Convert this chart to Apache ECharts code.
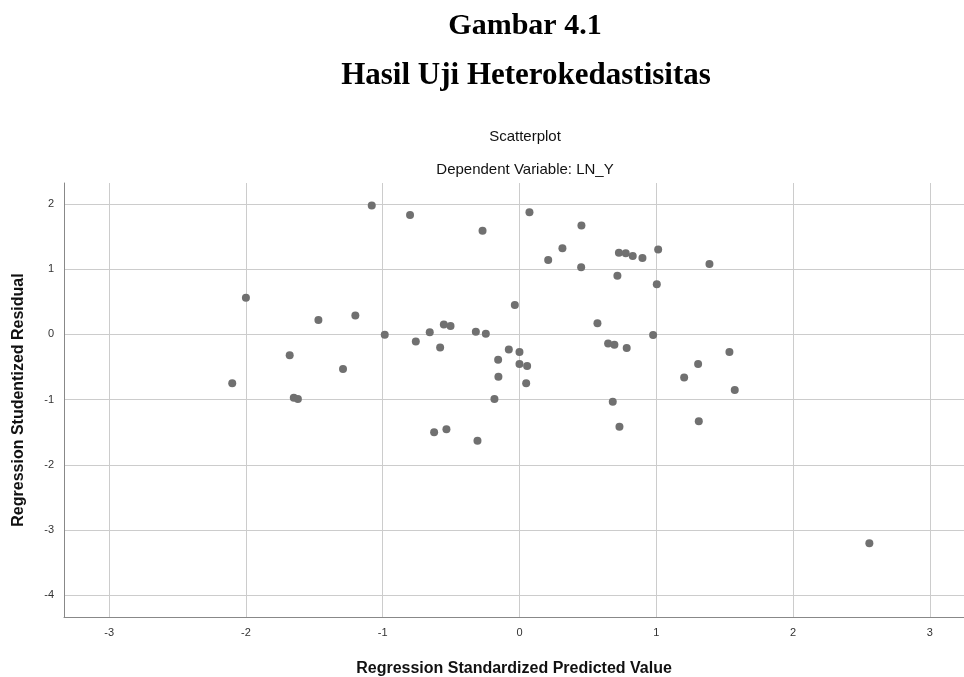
<!DOCTYPE html>
<html>
<head>
<meta charset="utf-8">
<title>Hasil Uji Heterokedastisitas</title>
<script src="https://cdn.jsdelivr.net/npm/echarts@6/dist/echarts.min.js"></script>
<style>
  html, body { margin: 0; padding: 0; background: #fff; }
  #chart { width: 964px; height: 677px; }
</style>
</head>
<body>
<div id="chart"></div>
<script>
// predicted value (x) and studentized residual (y)
const predicted = [
  -2.10, -2.00, -1.68, -1.65, -1.62, -1.47, -1.29, -1.20, -1.08, -0.985,
  -0.80, -0.758, -0.656, -0.624, -0.58, -0.553, -0.534, -0.504, -0.319, -0.307,
  -0.27, -0.246, -0.183, -0.156, -0.154, -0.078, -0.034, 0.0, 0.0, 0.049,
  0.056, 0.073, 0.21, 0.314, 0.451, 0.453, 0.570, 0.648, 0.682, 0.694,
  0.716, 0.727, 0.731, 0.777, 0.784, 0.828, 0.899, 0.977, 1.004, 1.014,
  1.204, 1.306, 1.311, 1.389, 1.535, 1.574, 2.558
]
const residual = [
  -0.75, 0.56, -0.32, -0.97, -0.99, 0.22, -0.53, 0.29, 1.975, -0.005,
  1.83, -0.11, 0.035, -1.50, -0.20, 0.15, -1.455, 0.13, 0.04, -1.63,
  1.59, 0.01, -0.99, -0.39, -0.65, -0.23, 0.45, -0.27, -0.455, -0.75,
  -0.485, 1.87, 1.14, 1.32, 1.03, 1.67, 0.17, -0.14, -1.03, -0.16,
  0.90, 1.25, -1.415, 1.245, -0.21, 1.20, 1.17, -0.01, 0.77, 1.30,
  -0.66, -0.455, -1.33, 1.08, -0.27, -0.85, -3.20
]
const xTicks = [-3, -2, -1, 0, 1, 2, 3]
const yTicks = [-4, -3, -2, -1, 0, 1, 2]

const chart = echarts.init(document.getElementById('chart'))

const sans = '"Liberation Sans", Arial, sans-serif'
const serif = '"Liberation Serif", "Times New Roman", serif'

const points = predicted.map((x, i) => [x, residual[i]])

const option = {
  backgroundColor: '#ffffff',
  animation: false,
  title: [
    {
      text: 'Gambar 4.1',
      left: 520, top: 6, textAlign: 'center',
      textStyle: { fontFamily: serif, fontWeight: 'bold', fontSize: 30, color: '#000' }
    },
    {
      text: 'Hasil Uji Heterokedastisitas',
      left: 521, top: 55, textAlign: 'center',
      textStyle: { fontFamily: serif, fontWeight: 'bold', fontSize: 31, color: '#000' }
    },
    {
      text: 'Scatterplot',
      left: 520, top: 124, textAlign: 'center',
      textStyle: { fontFamily: sans, fontWeight: 'normal', fontSize: 15, color: '#111' }
    },
    {
      text: 'Dependent Variable: LN_Y',
      left: 520, top: 157, textAlign: 'center',
      textStyle: { fontFamily: sans, fontWeight: 'normal', fontSize: 15, color: '#111' }
    }
  ],
  grid: { left: 64, top: 183, right: 0, bottom: 60, outerBoundsMode: 'none', containLabel: false },
  xAxis: {
    type: 'value',
    min: -3.33, max: 3.25,
    name: 'Regression Standardized Predicted Value',
    nameLocation: 'middle',
    nameGap: 44,
    nameTextStyle: { fontFamily: sans, fontWeight: 'bold', fontSize: 16, color: '#111' },
    axisLine: { show: true, onZero: false, lineStyle: { color: '#888', width: 1 } },
    axisTick: { show: false, customValues: xTicks },
    axisLabel: {
      customValues: xTicks,
      fontFamily: sans, fontSize: 11, color: '#333', margin: 10
    },
    splitLine: { show: true, lineStyle: { color: '#cccccc', width: 1 } }
  },
  yAxis: {
    type: 'value',
    min: -4.33, max: 2.32,
    name: 'Regression Studentized Residual',
    nameLocation: 'middle',
    nameGap: 37,
    nameRotate: 90,
    nameTextStyle: { fontFamily: sans, fontWeight: 'bold', fontSize: 16, color: '#111' },
    axisLine: { show: true, onZero: false, lineStyle: { color: '#888', width: 1 } },
    axisTick: { show: false, customValues: yTicks },
    axisLabel: {
      customValues: yTicks,
      fontFamily: sans, fontSize: 11, color: '#333', margin: 10
    },
    splitLine: { show: true, lineStyle: { color: '#cccccc', width: 1 } }
  },
  series: [
    {
      type: 'scatter',
      data: points,
      symbol: 'circle',
      symbolSize: 8,
      itemStyle: { color: '#707070', opacity: 1 }
    }
  ]
}

chart.setOption(option)
</script>
</body>
</html>
